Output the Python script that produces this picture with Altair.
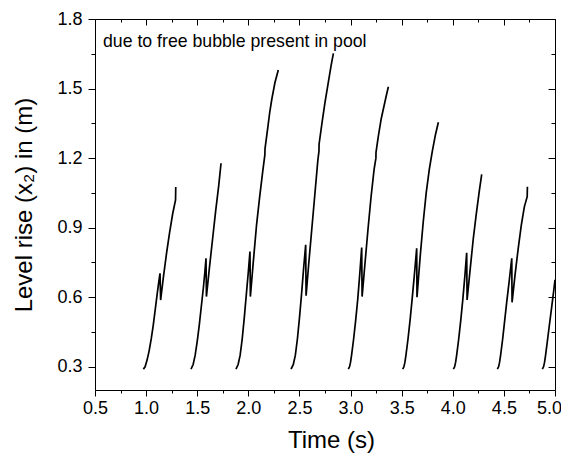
import altair as alt
import pandas as pd

# ---- data (time in s, level rise in m) ----
C1_T = [0.973, 0.99, 1.01, 1.03, 1.05, 1.07, 1.09, 1.11, 1.125, 1.136, 1.142, 1.17, 1.20, 1.23, 1.26, 1.288, 1.29]
C1_Y = [0.29, 0.30, 0.33, 0.37, 0.42, 0.48, 0.55, 0.62, 0.67, 0.703, 0.588, 0.69, 0.79, 0.88, 0.96, 1.02, 1.075]

C2_T = [1.439, 1.46, 1.48, 1.50, 1.52, 1.54, 1.56, 1.575, 1.586, 1.590, 1.62, 1.65, 1.68, 1.71, 1.733]
C2_Y = [0.29, 0.31, 0.35, 0.41, 0.48, 0.56, 0.64, 0.71, 0.768, 0.603, 0.73, 0.85, 0.97, 1.08, 1.178]

C3_T = [1.879, 1.90, 1.92, 1.94, 1.96, 1.98, 2.00, 2.016, 2.020, 2.05, 2.08, 2.11, 2.14, 2.162, 2.163, 2.19, 2.21, 2.23, 2.26, 2.293]
C3_Y = [0.29, 0.31, 0.35, 0.42, 0.51, 0.61, 0.71, 0.797, 0.603, 0.76, 0.91, 1.03, 1.14, 1.215, 1.24, 1.33, 1.40, 1.455, 1.525, 1.58]

C4_T = [2.418, 2.44, 2.46, 2.48, 2.50, 2.52, 2.54, 2.561, 2.565, 2.59, 2.62, 2.65, 2.68, 2.691, 2.692, 2.72, 2.75, 2.78, 2.81, 2.832]
C4_Y = [0.29, 0.31, 0.35, 0.42, 0.51, 0.61, 0.72, 0.826, 0.607, 0.74, 0.89, 1.04, 1.19, 1.23, 1.26, 1.35, 1.44, 1.52, 1.60, 1.652]

C5_T = [2.978, 2.99, 3.00, 3.01, 3.03, 3.05, 3.07, 3.09, 3.109, 3.113, 3.14, 3.17, 3.20, 3.23, 3.248, 3.249, 3.27, 3.30, 3.33, 3.35, 3.37]
C5_Y = [0.29, 0.30, 0.32, 0.35, 0.42, 0.50, 0.59, 0.70, 0.814, 0.603, 0.74, 0.89, 1.03, 1.15, 1.20, 1.225, 1.29, 1.37, 1.43, 1.47, 1.508]

C6_T = [3.51, 3.522, 3.532, 3.542, 3.562, 3.582, 3.602, 3.625, 3.647, 3.650, 3.68, 3.71, 3.74, 3.77, 3.80, 3.83, 3.859]
C6_Y = [0.29, 0.30, 0.32, 0.35, 0.42, 0.50, 0.59, 0.70, 0.811, 0.600, 0.77, 0.92, 1.05, 1.15, 1.23, 1.30, 1.355]

C7_T = [4.006, 4.018, 4.028, 4.038, 4.058, 4.078, 4.098, 4.118, 4.136, 4.140, 4.17, 4.20, 4.23, 4.26, 4.283]
C7_Y = [0.29, 0.30, 0.32, 0.35, 0.42, 0.50, 0.59, 0.69, 0.792, 0.588, 0.72, 0.85, 0.96, 1.06, 1.13]

C8_T = [4.436, 4.448, 4.458, 4.468, 4.488, 4.508, 4.528, 4.552, 4.577, 4.580, 4.61, 4.64, 4.67, 4.70, 4.728, 4.73]
C8_Y = [0.29, 0.30, 0.32, 0.35, 0.42, 0.50, 0.58, 0.67, 0.768, 0.578, 0.70, 0.81, 0.91, 0.99, 1.034, 1.077]

C9_T = [4.876, 4.888, 4.898, 4.908, 4.928, 4.948, 4.968, 4.988, 5.0]
C9_Y = [0.29, 0.30, 0.32, 0.35, 0.42, 0.49, 0.56, 0.63, 0.675]

X_TICKS = [0.5, 0.75, 1.0, 1.25, 1.5, 1.75, 2.0, 2.25, 2.5, 2.75, 3.0, 3.25, 3.5, 3.75, 4.0, 4.25, 4.5, 4.75, 5.0]
Y_TICKS = [0.3, 0.45, 0.6, 0.75, 0.9, 1.05, 1.2, 1.35, 1.5, 1.65, 1.8]
X_DOMAIN = [0.5, 5.0]
Y_DOMAIN = [0.2, 1.8]

ANNOTATION = "due to free bubble present in pool"
X_TITLE = "Time (s)"
Y_TITLE = "Level rise (x\u2082) in (m)"

CYCLES = [(C1_T, C1_Y), (C2_T, C2_Y), (C3_T, C3_Y), (C4_T, C4_Y), (C5_T, C5_Y),
          (C6_T, C6_Y), (C7_T, C7_Y), (C8_T, C8_Y), (C9_T, C9_Y)]

rows = []
for c, (ts, ys) in enumerate(CYCLES):
    for i, (t, y) in enumerate(zip(ts, ys)):
        rows.append({"cycle": c, "idx": i, "t": t, "y": y})
df = pd.DataFrame(rows)

W, H = 460, 371
FONT = "Liberation Sans"

xscale = alt.Scale(domain=X_DOMAIN, nice=False, zero=False)
yscale = alt.Scale(domain=Y_DOMAIN, nice=False, zero=False)

x_major = "round(datum.value*100) % 50 === 0"
y_major = "round(datum.value*100) % 30 === 0"

x_axis_main = alt.Axis(
    values=X_TICKS, format=".1f", orient="bottom",
    labelExpr=f"{x_major} ? datum.label : ''",
    tickSize={"condition": {"test": x_major, "value": 6}, "value": 3},
    labelOffset={"condition": {"test": "datum.value === 5", "value": -6}, "value": 0},
    labelPadding=3, labelFontSize=18, labelFont=FONT, labelColor="black",
    title=X_TITLE, titleFontSize=24, titleFont=FONT, titleFontWeight="normal",
    titleX=236, titleY=57, titleBaseline="alphabetic", titleAlign="center",
    domainColor="black", tickColor="black", grid=False, labelFlush=False,
    labelOverlap=False,
)
y_axis_main = alt.Axis(
    values=Y_TICKS, format=".1f", orient="left",
    labelExpr=f"{y_major} ? datum.label : ''",
    tickSize={"condition": {"test": y_major, "value": 7}, "value": 4},
    labelPadding=6, labelFontSize=18, labelFont=FONT, labelColor="black",
    title=Y_TITLE, titleFontSize=24, titleFont=FONT, titleFontWeight="normal",
    titleX=-64, titleY=H / 2, titleAngle=270, titleBaseline="alphabetic", titleAlign="center",
    domainColor="black", tickColor="black", grid=False, labelFlush=False,
    labelOverlap=False,
)
x_axis_top = alt.Axis(
    values=X_TICKS, orient="bottom", offset=-H, labels=False, title=None,
    tickSize={"condition": {"test": x_major, "value": 6}, "value": 3},
    domainColor="black", tickColor="black", grid=False,
)
y_axis_right = alt.Axis(
    values=Y_TICKS, orient="left", offset=-W, labels=False, title=None,
    tickSize={"condition": {"test": y_major, "value": 7}, "value": 4},
    domainColor="black", tickColor="black", grid=False,
)

lines = alt.Chart(df).mark_line(color="black", strokeWidth=1.7, clip=True).encode(
    x=alt.X("t:Q", scale=xscale, axis=x_axis_main),
    y=alt.Y("y:Q", scale=yscale, axis=y_axis_main),
    detail="cycle:N",
    order="idx:Q",
)

mirror = alt.Chart(df).mark_line(opacity=0).encode(
    x=alt.X("t:Q", scale=xscale, axis=x_axis_top),
    y=alt.Y("y:Q", scale=yscale, axis=y_axis_right),
    detail="cycle:N",
    order="idx:Q",
)

note = alt.Chart(pd.DataFrame({"label": [ANNOTATION]})).mark_text(
    align="left", baseline="alphabetic", fontSize=17.7, font=FONT, color="black"
).encode(
    x=alt.value(8), y=alt.value(28), text="label:N"
)

chart = alt.layer(lines, mirror, note).resolve_axis(
    x="independent", y="independent"
).properties(
    width=W, height=H,
    autosize=alt.AutoSizeParams(type="none"),
    padding={"left": 87, "top": 11, "right": 6, "bottom": 65},
).configure_view(stroke="transparent").configure(background="white")

chart.save("out.html", embed_options={"renderer": "svg", "actions": False})
